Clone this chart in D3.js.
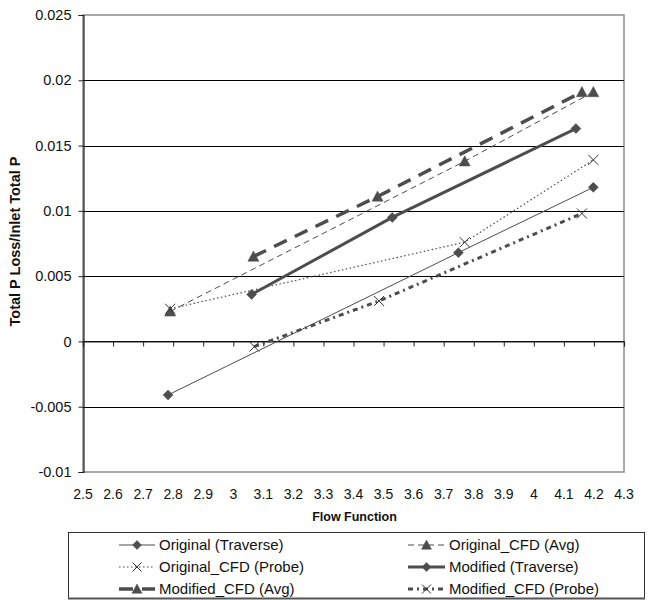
<!DOCTYPE html>
<html>
<head>
<meta charset="utf-8">
<script src="https://cdn.jsdelivr.net/npm/d3@7"></script>
<style>
  html, body { margin: 0; padding: 0; background: #fff; }
  svg { display: block; font-family: Arial, "Liberation Sans", sans-serif; }
</style>
</head>
<body>
<svg id="chart" width="649" height="600"></svg>
<script>
// Pressure-loss measurements against flow function
const xTicks = [2.5, 2.6, 2.7, 2.8, 2.9, 3, 3.1, 3.2, 3.3, 3.4, 3.5, 3.6, 3.7, 3.8, 3.9, 4, 4.1, 4.2, 4.3];
const yTicks = [-0.01, -0.005, 0, 0.005, 0.01, 0.015, 0.02, 0.025];

const origTraverseFlow = [2.783, 3.749, 4.198];
const origTraverseLoss = [-0.0041, 0.0068, 0.0118];

const origCfdAvgFlow = [2.79, 3.77, 4.198];
const origCfdAvgLoss = [0.0023, 0.0138, 0.0191];

const origCfdProbeFlow = [2.79, 3.77, 4.198];
const origCfdProbeLoss = [0.0025, 0.0076, 0.0139];

const modTraverseFlow = [3.061, 3.529, 4.14];
const modTraverseLoss = [0.0036, 0.0095, 0.0163];

const modCfdAvgFlow = [3.067, 3.48, 4.16];
const modCfdAvgLoss = [0.0065, 0.0111, 0.0191];

const modCfdProbeFlow = [3.07, 3.485, 4.16];
const modCfdProbeLoss = [-0.0004, 0.0031, 0.0098];

const seriesNames = ["Original (Traverse)", "Original_CFD (Avg)", "Original_CFD (Probe)",
                     "Modified (Traverse)", "Modified_CFD (Avg)", "Modified_CFD (Probe)"];

const ink = "#4d4d4d";
const series = [
  { name: seriesNames[0], xs: origTraverseFlow, ys: origTraverseLoss, width: 1, dash: null, marker: "diamond", size: 10 },
  { name: seriesNames[1], xs: origCfdAvgFlow, ys: origCfdAvgLoss, width: 1, dash: "6,4", marker: "triangle", size: 11 },
  { name: seriesNames[2], xs: origCfdProbeFlow, ys: origCfdProbeLoss, width: 1.2, dash: "1.5,2.5", marker: "x", size: 10 },
  { name: seriesNames[3], xs: modTraverseFlow, ys: modTraverseLoss, width: 3, dash: null, marker: "diamond", size: 10 },
  { name: seriesNames[4], xs: modCfdAvgFlow, ys: modCfdAvgLoss, width: 3.5, dash: "14,9", marker: "triangle", size: 11 },
  { name: seriesNames[5], xs: modCfdProbeFlow, ys: modCfdProbeLoss, width: 3, dash: "5,4,2,4", marker: "x", size: 10 }
];

// plain hyphen for negatives, as on the printed axis
const fmtNum = d => String(+(+d).toFixed(3));

const svg = d3.select("#chart");
const plot = { left: 83, right: 624, top: 15, bottom: 472 };

const x = d3.scaleLinear().domain([2.5, 4.3]).range([plot.left, plot.right]);
const y = d3.scaleLinear().domain([-0.01, 0.025]).range([plot.bottom, plot.top]);

// plot frame
svg.append("rect")
  .attr("x", plot.left).attr("y", plot.top)
  .attr("width", plot.right - plot.left).attr("height", plot.bottom - plot.top)
  .attr("fill", "none").attr("stroke", "#8c8c8c").attr("stroke-width", 1.5);

// horizontal gridlines
svg.append("g").selectAll("line")
  .data(yTicks.filter(v => v > -0.01 && v < 0.025))
  .join("line")
  .attr("x1", plot.left).attr("x2", plot.right)
  .attr("y1", d => Math.round(y(d)) + 0.5).attr("y2", d => Math.round(y(d)) + 0.5)
  .attr("stroke", "#000").attr("stroke-width", 1);

// y axis
const yAxis = d3.axisLeft(y).tickValues(yTicks).tickSize(5).tickPadding(7).tickFormat(fmtNum);
const gy = svg.append("g").attr("transform", `translate(${plot.left + 0.5},0)`).call(yAxis);
gy.select(".domain").attr("stroke", "#222").attr("stroke-width", 1.2);
gy.selectAll(".tick line").attr("stroke", "#222");
gy.selectAll(".tick text").attr("font-size", 14.5).attr("fill", "#111")
  .attr("font-family", "Arial, 'Liberation Sans', sans-serif");

// x axis crosses at zero; tick marks at the crossing, labels below the plot
const zeroY = Math.round(y(0)) + 0.5;
const gx = svg.append("g").attr("transform", `translate(0,${zeroY})`)
  .call(d3.axisBottom(x).tickValues(xTicks).tickSize(5).tickFormat(""));
gx.select(".domain").attr("stroke", "#222").attr("stroke-width", 1.2);
gx.selectAll(".tick line").attr("stroke", "#222");

svg.append("g").selectAll("text")
  .data(xTicks)
  .join("text")
  .attr("x", d => x(d)).attr("y", 499)
  .attr("text-anchor", "middle").attr("font-size", 14).attr("fill", "#111")
  .text(fmtNum);

// axis titles
svg.append("text")
  .attr("x", (plot.left + plot.right) / 2 + 1).attr("y", 521)
  .attr("text-anchor", "middle").attr("font-size", 12.5).attr("font-weight", "bold").attr("fill", "#111")
  .text("Flow Function");

svg.append("text")
  .attr("transform", `translate(20,${(plot.top + plot.bottom) / 2 - 2}) rotate(-90)`)
  .attr("text-anchor", "middle").attr("font-size", 14.5).attr("font-weight", "bold").attr("fill", "#111")
  .text("Total P Loss/Inlet Total P");

// marker drawing helper
function drawMarker(g, kind, cx, cy, size) {
  const h = size / 2;
  if (kind === "diamond") {
    g.append("path")
      .attr("d", `M${cx},${cy - h}L${cx + h},${cy}L${cx},${cy + h}L${cx - h},${cy}Z`)
      .attr("fill", ink).attr("stroke", ink).attr("stroke-width", 0.5);
  } else if (kind === "triangle") {
    g.append("path")
      .attr("d", `M${cx},${cy - h}L${cx + h},${cy + h * 0.85}L${cx - h},${cy + h * 0.85}Z`)
      .attr("fill", ink).attr("stroke", ink).attr("stroke-width", 0.5);
  } else if (kind === "x") {
    g.append("path")
      .attr("d", `M${cx - h},${cy - h}L${cx + h},${cy + h}M${cx - h},${cy + h}L${cx + h},${cy - h}`)
      .attr("fill", "none").attr("stroke", "#333").attr("stroke-width", 1);
  }
}

// series lines and markers
const line = d3.line().x(d => x(d[0])).y(d => y(d[1]));
const marks = svg.append("g");
series.forEach(s => {
  const pts = s.xs.map((v, i) => [v, s.ys[i]]);
  marks.append("path")
    .attr("d", line(pts))
    .attr("fill", "none").attr("stroke", ink)
    .attr("stroke-width", s.width)
    .attr("stroke-dasharray", s.dash)
    .attr("stroke-linejoin", "round");
  pts.forEach(p => drawMarker(marks, s.marker, x(p[0]), y(p[1]), s.size));
});

// legend
const legend = svg.append("g");
legend.append("rect")
  .attr("x", 68.5).attr("y", 532.5).attr("width", 576).attr("height", 66)
  .attr("fill", "#fff").attr("stroke", "#333").attr("stroke-width", 1);
legend.append("line")
  .attr("x1", 68).attr("x2", 645).attr("y1", 598.5).attr("y2", 598.5)
  .attr("stroke", "#555").attr("stroke-width", 2);

series.forEach((s, k) => {
  const col = k % 2, row = Math.floor(k / 2);
  const x0 = col === 0 ? 119 : 408;
  const x1 = col === 0 ? 155 : 445;
  const cy = 545 + row * 22;
  legend.append("line")
    .attr("x1", x0).attr("x2", x1).attr("y1", cy).attr("y2", cy)
    .attr("stroke", ink).attr("stroke-width", s.width)
    .attr("stroke-dasharray", s.dash);
  drawMarker(legend, s.marker, (x0 + x1) / 2, cy, s.size - 1);
  legend.append("text")
    .attr("x", x1 + 4).attr("y", cy + 5)
    .attr("font-size", 15).attr("fill", "#111")
    .text(s.name);
});
</script>
</body>
</html>
